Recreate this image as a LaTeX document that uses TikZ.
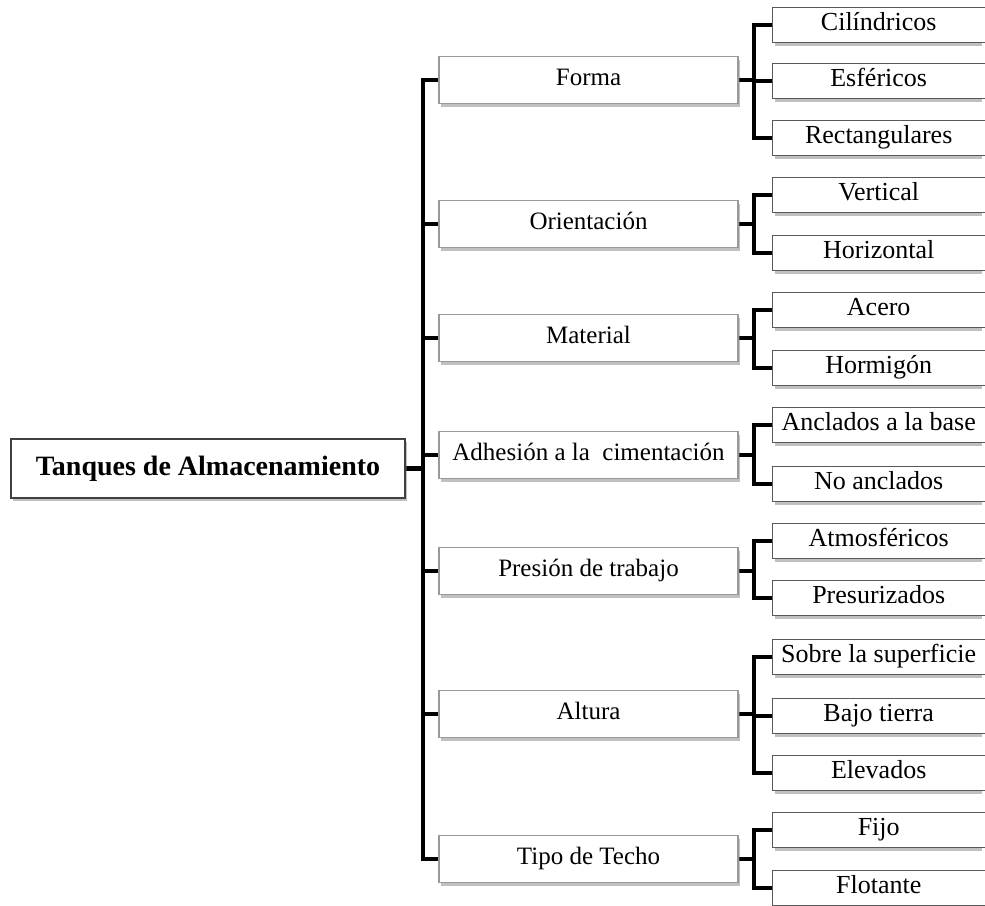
\documentclass[tikz,border=0pt]{standalone}
\usepackage{fontspec}
\setmainfont{Liberation Serif}
\usetikzlibrary{shadows,backgrounds}
\tikzset{
  x=1pt, y=-1pt,
  shadowfill/.style={fill=black!55, opacity=0.45},
  basebox/.style={fill=white, inner sep=0pt, line join=miter,
    text height=17pt, text depth=6pt, font=\fontsize{25}{30}\selectfont},
  shadowbox/.style={basebox,
    drop shadow={shadow xshift=2pt, shadow yshift=-3pt, opacity=0.45, fill=black!55}},
  rootbox/.style={shadowbox, draw=black!75, line width=1.4pt, minimum width=394pt, minimum height=59pt,
    font=\bfseries\fontsize{28}{34}\selectfont, text height=19pt, text depth=6pt},
  midbox/.style={shadowbox, draw=black!40, line width=1.4pt, minimum width=299pt, minimum height=47pt},
  leafbox/.style={basebox, draw=black!65, line width=1.4pt, minimum height=35pt,
    font=\fontsize{26}{30}\selectfont},
  conn/.style={line width=4.2pt, black, line join=miter},
}
\newcommand{\leaftext}[1]{\makebox[212pt][c]{#1}\hspace*{30pt}}
\begin{document}
\begin{tikzpicture}
\useasboundingbox (0,0) rectangle (985,905);
\coordinate (tk) at (423,0);
\coordinate (bx) at (754,0);
% root
\node[rootbox] (root) at (208,468.5) {Tanques de Almacenamiento};
% middle level
\node[midbox] (forma) at (588.5,80) {Forma};
\node[midbox] (orient) at (588.5,224) {Orientación};
\node[midbox] (mat) at (588.5,338) {Material};
\node[midbox] (adh) at (588.5,455) {Adhesión a la \ cimentación};
\node[midbox] (pres) at (588.5,571) {Presión de trabajo};
\node[midbox] (alt) at (588.5,714) {Altura};
\node[midbox] (techo) at (588.5,859) {Tipo de Techo};
% leaves (left edge at 772, right edge beyond the page)
\foreach \n/\y/\t in {cil/25/Cilíndricos, esf/81/Esféricos, rec/138/Rectangulares,
    ver/195/Vertical, hoz/253/Horizontal, ace/310/Acero, hrm/368/Hormigón,
    anc/425/Anclados a la base, noa/484/No anclados, atm/541/Atmosféricos,
    prz/598/Presurizados, sob/657/Sobre la superficie, baj/716/Bajo tierra,
    ele/773/Elevados, fij/830/Fijo, flo/888/Flotante} {
  \node[leafbox, anchor=west] (\n) at (772,\y) {\leaftext{\t}};
  \begin{scope}[on background layer]
    \fill[shadowfill] (775,\y+20.5) rectangle (982,\y-14.5);
  \end{scope}
}
\begin{scope}[on background layer]
  % trunk
  \draw[conn] (root.east) -- (tk |- root.east);
  \draw[conn] (forma.west) -- (tk |- forma.west) -- (tk |- techo.west) -- (techo.west);
  \foreach \m in {orient,mat,adh,pres,alt}
    \draw[conn] (tk |- \m.west) -- (\m.west);
  % brackets
  \foreach \m/\a/\b in {forma/cil/rec, orient/ver/hoz, mat/ace/hrm, adh/anc/noa,
                        pres/atm/prz, alt/sob/ele, techo/fij/flo} {
    \draw[conn] (\m.east) -- (bx |- \m.east);
    \draw[conn] (\a.west) -- (bx |- \a.west) -- (bx |- \b.west) -- (\b.west);
  }
  \foreach \c in {esf, baj}
    \draw[conn] (bx |- \c.west) -- (\c.west);
\end{scope}
\end{tikzpicture}
\end{document}
